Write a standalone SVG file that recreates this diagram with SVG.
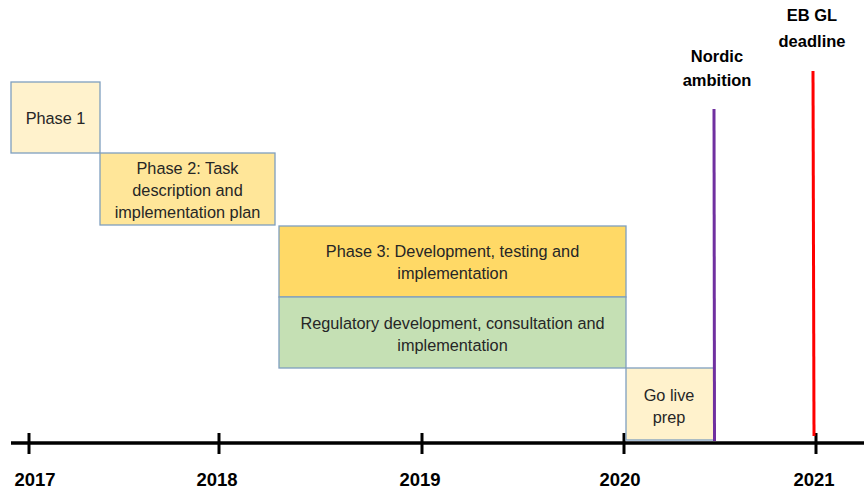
<svg xmlns="http://www.w3.org/2000/svg" width="864" height="492" viewBox="0 0 864 492">
<style>
.box{stroke:#7f9fbf;stroke-width:1.3}
.t{font-family:"Liberation Sans",Arial,sans-serif;font-size:16.3px;fill:#262626;text-anchor:middle}
.y{font-family:"Liberation Sans",Arial,sans-serif;font-size:18.5px;font-weight:bold;fill:#000;text-anchor:middle}
.m{font-family:"Liberation Sans",Arial,sans-serif;font-size:16.5px;font-weight:bold;fill:#000;text-anchor:middle}
.tick{stroke:#000;stroke-width:3}
</style>
<rect width="864" height="492" fill="#fff"/>
<g id="connectors">
<line x1="11" y1="443" x2="864" y2="443" stroke="#000" stroke-width="3.5"/>
<line class="tick" x1="29" y1="433" x2="29" y2="454"/>
<line class="tick" x1="219" y1="433" x2="219" y2="454"/>
<line class="tick" x1="422" y1="433" x2="422" y2="454"/>
<line class="tick" x1="624" y1="433" x2="624" y2="454"/>
<line class="tick" x1="816" y1="433" x2="816" y2="454"/>
</g>
<g id="phase1"><rect class="box" x="11" y="82" width="89" height="71" fill="#fff2cc"/><text class="t" x="55.5" y="124">Phase 1</text></g>
<g id="phase2"><rect class="box" x="100" y="153" width="175" height="72" fill="#ffe699"/><text class="t" x="187.5" y="174">Phase 2: Task</text><text class="t" x="187.5" y="196">description and</text><text class="t" x="187.5" y="218">implementation plan</text></g>
<g id="phase3"><rect class="box" x="279" y="226" width="347" height="71" fill="#ffd966"/><text class="t" x="452.5" y="257">Phase 3: Development, testing and</text><text class="t" x="452.5" y="279">implementation</text></g>
<g id="regulatory"><rect class="box" x="279" y="297" width="347" height="71" fill="#c5e0b4"/><text class="t" x="452.5" y="329">Regulatory development, consultation and</text><text class="t" x="452.5" y="351">implementation</text></g>
<g id="golive"><rect class="box" x="626" y="368" width="88" height="72" fill="#fff2cc"/><text class="t" x="669" y="401">Go live</text><text class="t" x="669" y="423">prep</text></g>
<g id="nordic"><line x1="714" y1="109" x2="714.5" y2="441" stroke="#7030a0" stroke-width="3"/><text class="m" x="717" y="62">Nordic</text><text class="m" x="717" y="86">ambition</text></g>
<g id="ebgl"><line x1="813" y1="71" x2="814" y2="436" stroke="#ff0000" stroke-width="3"/><text class="m" x="812" y="21">EB GL</text><text class="m" x="812" y="47">deadline</text></g>
<g id="years">
<text class="y" x="35" y="486">2017</text>
<text class="y" x="217" y="486">2018</text>
<text class="y" x="420" y="486">2019</text>
<text class="y" x="620" y="486">2020</text>
<text class="y" x="814" y="486">2021</text>
</g>
</svg>
